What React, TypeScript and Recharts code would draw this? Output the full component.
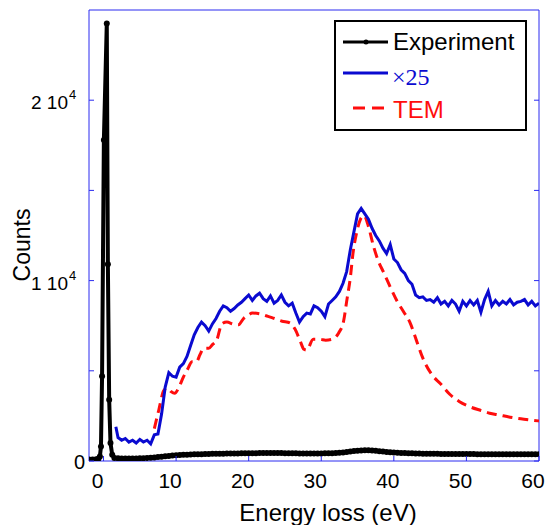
import React from 'react'
import {
  LineChart,
  Line,
  XAxis,
  YAxis,
  ReferenceArea,
  Legend,
  Label,
} from 'recharts'

const SANS = '"Liberation Sans", Arial, sans-serif'
const SERIF = '"Liberation Serif", "DejaVu Serif", "Times New Roman", serif'
const FRAME = '#2a2af0'
const BLUE = '#0a0ad0'
const RED = '#ff0d0d'

// x ticks and y ticks
const xTicks = [0, 10, 20, 30, 40, 50, 60]
const yTicks = [0, 5000, 10000, 15000, 20000]
const yLabels: Record<number, [string, string]> = {
  0: ['0', ''],
  10000: ['1 10', '4'],
  20000: ['2 10', '4'],
}

// experiment: zero-loss peak (sampled points)
const peakEnergy = [-2, -1.5, -1, -0.7, -0.5, -0.35, -0.2, 0.05, 0.45, 0.6, 0.78, 0.96, 1.2, 1.5]
const peakCounts = [90, 90, 100, 120, 250, 800, 4700, 17800, 24250, 10900, 3400, 1000, 350, 170]

// energy grid for the tail / x25 curve (eV)
const energy = [
  2, 2.5, 3, 3.5, 4, 4.5, 5, 5.5, 6, 6.5, 7, 7.5, 8, 8.5, 9, 9.5, 10, 10.5, 11, 11.5,
  12, 12.5, 13, 13.5, 14, 14.5, 15, 15.5, 16, 16.5, 17, 17.5, 18, 18.5, 19, 19.5, 20, 20.5,
  21, 21.5, 22, 22.5, 23, 23.5, 24, 24.5, 25, 25.5, 26, 26.5, 27, 27.5, 28, 28.5, 29, 29.5,
  30, 30.5, 31, 31.5, 32, 32.5, 33, 33.5, 34, 34.5, 35, 35.5, 36, 36.5, 37, 37.5, 38, 38.5,
  39, 39.5, 40, 40.5, 41, 41.5, 42, 42.5, 43, 43.5, 44, 44.5, 45, 45.5, 46, 46.5, 47, 47.5,
  48, 48.5, 49, 49.5, 50, 50.5, 51, 51.5, 52, 52.5, 53, 53.5, 54, 54.5, 55, 55.5, 56, 56.5,
  57, 57.5, 58, 58.5, 59, 59.5, 60,
]

const tailCounts = [
  150, 140, 140, 140, 140, 145, 150, 155, 165, 180, 200, 220, 240, 260, 280, 300, 320, 330, 340, 350,
  360, 370, 375, 380, 390, 392, 395, 398, 400, 405, 410, 413, 418, 420, 425, 428, 430, 432,
  435, 437, 440, 440, 440, 440, 440, 438, 435, 432, 430, 426, 422, 420, 420, 420, 420, 420,
  422, 425, 430, 435, 442, 455, 475, 500, 525, 550, 570, 585, 592, 590, 580, 565, 545, 525,
  505, 490, 475, 462, 450, 440, 432, 425, 418, 412, 407, 403, 400, 397, 395, 393, 391, 390,
  388, 387, 386, 385, 384, 383, 382, 381, 380, 379, 379, 378, 378, 377, 377, 376, 376, 375,
  375, 374, 374, 373, 373, 372, 372,
]

const x25Start = [1.7, 1900]
const x25Counts = [
  1300, 1150, 1250, 1050, 1150, 1000, 1200, 1050, 1150, 950, 1450, 1500, 2600, 4100, 4900, 4700, 4650, 5200, 5400, 5800,
  6400, 7000, 7400, 7700, 7500, 7200, 7600, 7900, 8300, 8600, 8500, 8300, 8450, 8650, 8800, 9000, 9200, 8900,
  9150, 9300, 9000, 8850, 9150, 8750, 8900, 9200, 8800, 8600, 8750, 8200, 7700, 8000, 8200, 8150, 8600, 8500,
  8300, 8000, 8700, 8900, 9100, 9400, 9850, 10500, 11700, 12700, 13700, 14000, 13700, 13400, 12900, 12500, 12200, 11800,
  11500, 12000, 11200, 11000, 10600, 10400, 10000, 9800, 9200, 9050, 9100, 8900, 8950, 8800, 9050, 8700, 8850, 8600,
  8900, 8700, 8300, 8850, 8600, 8900, 8650, 8900, 8250, 8950, 9400, 8600, 8900, 8650, 8850, 8700, 8950, 8650,
  8800, 8850, 8950, 8650, 8850, 8600, 8750,
]

// TEM simulation
const temEnergy = [
  7, 7.6, 8.3, 8.8, 9.3, 9.8, 10.4, 11, 11.6, 12.2, 12.8, 13.3, 13.8, 14.5, 15, 15.6, 16.3, 17, 17.8,
  18.6, 19.3, 20, 20.5, 21.6, 22.4, 23.2, 24.6, 25.7, 26.4, 27.1, 27.6, 28, 28.9, 29.8, 30.6, 31.5,
  32.4, 33.1, 33.5, 34, 34.4, 34.9, 35.4, 35.9, 36.5, 37.2, 37.9, 38.6, 39.5, 40.4, 41.3, 42.2,
  43.1, 44, 45.4, 46.4, 47.7, 49, 50.5, 52, 53.2, 54.5, 56, 57.5, 58.7, 60,
]
const temCounts = [
  1800, 2800, 3900, 4050, 3850, 3750, 4100, 4650, 5100, 5500, 5500, 5900, 6250, 6250, 6450, 6700, 7600, 7700, 7600,
  7550, 7900, 8100, 8200, 8150, 8050, 7950, 7750, 7650, 7300, 6650, 6200, 6150, 6750, 6750, 6700, 6750,
  7100, 7800, 8850, 10150, 11600, 12700, 13400, 13600, 13000, 11900, 11050, 10450, 9650, 8900, 8300, 7700,
  6700, 5700, 4700, 4300, 3700, 3300, 3000, 2800, 2650, 2550, 2430, 2340, 2280, 2220,
]

const expData = [
  ...peakEnergy.map((x, i) => ({ x, y: peakCounts[i] })),
  ...energy.map((x, i) => ({ x, y: tailCounts[i] })),
]
const x25Data = [
  { x: x25Start[0], y: x25Start[1] },
  ...energy.map((x, i) => ({ x, y: x25Counts[i] })),
]
const temData = temEnergy.map((x, i) => ({ x, y: temCounts[i] }))

const XTick = (props: any) => {
  const { x, y, payload } = props
  return (
    <g>
      <line x1={x} x2={x} y1={y} y2={y - 5} stroke={FRAME} strokeWidth={1} />
      <text x={x - 6} y={y + 27} textAnchor="middle" fontSize={21} style={{ fontFamily: SANS }} fill="#000">
        {payload.value}
      </text>
    </g>
  )
}

const YTick = (props: any) => {
  const { x, y, payload } = props
  const lab = yLabels[payload.value]
  return (
    <g>
      <line x1={x} x2={x + 5} y1={y} y2={y} stroke={FRAME} strokeWidth={1} />
      {lab && lab[1] === '' && (
        <text x={x - 4} y={y + 8} textAnchor="end" fontSize={20} style={{ fontFamily: SANS }} fill="#000">
          {lab[0]}
        </text>
      )}
      {lab && lab[1] !== '' && (
        <g>
          <text x={x - 21} y={y + 9} textAnchor="end" fontSize={19} style={{ fontFamily: SANS }} fill="#000">
            {lab[0]}
          </text>
          <text x={x - 20} y={y - 1} textAnchor="start" fontSize={13} style={{ fontFamily: SANS }} fill="#000">
            {lab[1]}
          </text>
        </g>
      )}
    </g>
  )
}

const RightTick = (props: any) => {
  const { x, y } = props
  return <line x1={x} x2={x - 5} y1={y} y2={y} stroke={FRAME} strokeWidth={1} />
}

const renderLegend = () => (
  <div
    style={{
      width: 193,
      height: 111,
      border: '2px solid #000',
      boxSizing: 'border-box',
      background: '#fff',
    }}
  >
    <svg width={189} height={107} style={{ display: 'block' }}>
      <line x1={7} x2={52} y1={20} y2={20} stroke="#000" strokeWidth={3} />
      <circle cx={30} cy={20} r={2.5} fill="#000" />
      <text x={57} y={28} fontSize={24} style={{ fontFamily: SANS }} fill="#000">Experiment</text>
      <line x1={7} x2={52} y1={51} y2={51} stroke={BLUE} strokeWidth={3} />
      <text x={56} y={63} fontSize={24} fontFamily={SERIF} style={{ fontFamily: SERIF }} fill={BLUE}>×25</text>
      <line x1={17} x2={50} y1={86} y2={86} stroke={RED} strokeWidth={3} strokeDasharray="12 7" />
      <text x={57} y={96} fontSize={24} style={{ fontFamily: SANS }} fill={RED}>TEM</text>
    </svg>
  </div>
)

export default function App() {
  return (
    <div style={{ position: 'absolute', left: 0, top: 0, background: '#fff' }}>
      <LineChart
        width={546}
        height={525}
        margin={{ top: 10, right: 0, left: 0, bottom: 0 }}
        style={{ fontFamily: SANS }}
      >
        <XAxis
          dataKey="x"
          type="number"
          domain={[-2, 60]}
          ticks={xTicks}
          allowDataOverflow
          height={64}
          axisLine={false}
          tickLine={false}
          tickSize={0}
          tickMargin={0}
          tick={<XTick />}
          interval={0}
        >
          <Label
            content={() => (
              <text x={328} y={521} textAnchor="middle" fontSize={24} style={{ fontFamily: SANS }} fill="#000">
                Energy loss (eV)
              </text>
            )}
          />
        </XAxis>
        <YAxis
          yAxisId="left"
          type="number"
          domain={[0, 25000]}
          ticks={yTicks}
          allowDataOverflow
          width={89}
          axisLine={false}
          tickLine={false}
          tickSize={0}
          tickMargin={0}
          tick={<YTick />}
          interval={0}
        >
          <Label
            content={() => (
              <text
                x={30}
                y={245}
                transform="rotate(-90 30 245)"
                textAnchor="middle"
                fontSize={23}
                style={{ fontFamily: SANS }}
                fill="#000"
              >
                Counts
              </text>
            )}
          />
        </YAxis>
        <YAxis
          yAxisId="right"
          orientation="right"
          type="number"
          domain={[0, 25000]}
          ticks={yTicks}
          allowDataOverflow
          width={7}
          axisLine={false}
          tickLine={false}
          tickSize={0}
          tickMargin={0}
          tick={<RightTick />}
          interval={0}
        />
        <ReferenceArea
          yAxisId="left"
          x1={-2}
          x2={60}
          y1={0}
          y2={25000}
          fill="none"
          fillOpacity={0}
          stroke={FRAME}
          strokeWidth={1}
        />
        <Line
          yAxisId="left"
          data={temData}
          dataKey="y"
          stroke={RED}
          strokeWidth={3}
          strokeDasharray="10 6"
          dot={false}
          type="monotone"
          isAnimationActive={false}
          name="TEM"
        />
        <Line
          yAxisId="left"
          data={x25Data}
          dataKey="y"
          stroke={BLUE}
          strokeWidth={3}
          dot={false}
          type="linear"
          isAnimationActive={false}
          name="×25"
        />
        <Line
          yAxisId="left"
          data={expData}
          dataKey="y"
          stroke="#000"
          strokeWidth={4}
          dot={{ r: 3, fill: '#000', stroke: 'none' }}
          type="linear"
          isAnimationActive={false}
          name="Experiment"
        />
        <Legend
          layout="vertical"
          align="center"
          verticalAlign="middle"
          content={renderLegend}
          wrapperStyle={{ left: 334, top: 20, width: 193, height: 111 }}
        />
      </LineChart>
    </div>
  )
}
